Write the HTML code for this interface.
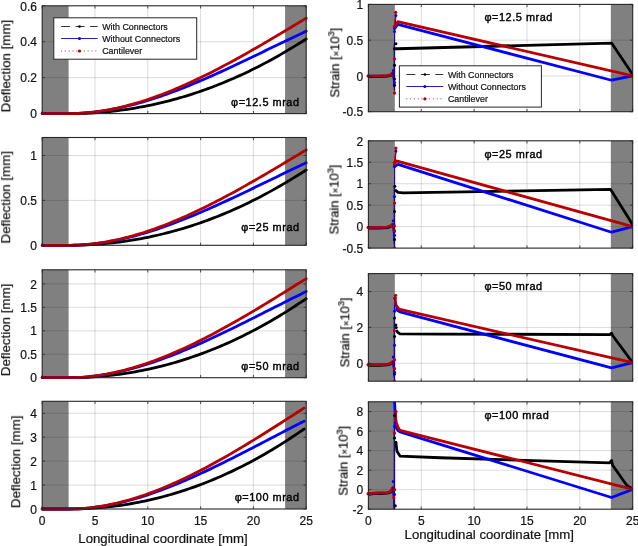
<!DOCTYPE html>
<html><head><meta charset="utf-8"><style>
html,body{margin:0;padding:0;background:#fff;}
body{width:638px;height:546px;overflow:hidden;}
svg{display:block;} text{will-change:transform;fill:#141414;stroke:#141414;stroke-width:0.22px;}
</style></head><body>
<svg width="638" height="546" viewBox="0 0 638 546" font-family='"Liberation Sans", sans-serif'>
<rect width="638" height="546" fill="#fff"/>
<rect x="42.2" y="5.8" width="264" height="107.8" fill="#fff"/>
<rect x="42.2" y="5.8" width="26.4" height="107.8" fill="#808080"/>
<rect x="285.08" y="5.8" width="21.12" height="107.8" fill="#808080"/>
<path d="M95 5.8V113.6M147.8 5.8V113.6M200.6 5.8V113.6M253.4 5.8V113.6M42.2 77.67H306.2M42.2 41.73H306.2" stroke="#000" stroke-opacity="0.14" stroke-width="1" fill="none"/>
<path d="M42.2 113.6 L68.6 113.6 L71.77 113.59 L74.94 113.55 L78.1 113.49 L81.27 113.4 L84.44 113.29 L87.61 113.15 L90.78 112.99 L93.94 112.8 L97.11 112.59 L100.28 112.35 L103.45 112.09 L106.62 111.8 L109.78 111.49 L112.95 111.15 L116.12 110.78 L119.29 110.39 L122.46 109.97 L125.62 109.53 L128.79 109.06 L131.96 108.56 L135.13 108.04 L138.3 107.49 L141.46 106.92 L144.63 106.31 L147.8 105.69 L150.97 105.03 L154.14 104.35 L157.3 103.64 L160.47 102.91 L163.64 102.15 L166.81 101.36 L169.98 100.54 L173.14 99.7 L176.31 98.83 L179.48 97.93 L182.65 97.01 L185.82 96.06 L188.98 95.08 L192.15 94.07 L195.32 93.04 L198.49 91.97 L201.66 90.88 L204.82 89.77 L207.99 88.62 L211.16 87.45 L214.33 86.24 L217.5 85.01 L220.66 83.76 L223.83 82.47 L227 81.15 L230.17 79.81 L233.34 78.44 L236.5 77.04 L239.67 75.61 L242.84 74.15 L246.01 72.66 L249.18 71.14 L252.34 69.6 L255.51 68.02 L258.68 66.42 L261.85 64.79 L265.02 63.13 L268.18 61.43 L271.35 59.71 L274.52 57.96 L277.69 56.18 L280.86 54.37 L284.02 52.53 L287.19 50.66 L290.36 48.77 L293.53 46.85 L296.7 44.91 L299.86 42.96 L303.03 41 L306.2 39.04" stroke="#000000" stroke-width="2.8" fill="none" stroke-linejoin="round" stroke-linecap="round"/>
<path d="M42.2 113.6 L68.6 113.6 L71.77 113.58 L74.94 113.5 L78.1 113.39 L81.27 113.22 L84.44 113.01 L87.61 112.75 L90.78 112.45 L93.94 112.11 L97.11 111.73 L100.28 111.3 L103.45 110.83 L106.62 110.33 L109.78 109.78 L112.95 109.2 L116.12 108.57 L119.29 107.91 L122.46 107.22 L125.62 106.49 L128.79 105.72 L131.96 104.92 L135.13 104.09 L138.3 103.22 L141.46 102.32 L144.63 101.4 L147.8 100.44 L150.97 99.45 L154.14 98.43 L157.3 97.39 L160.47 96.32 L163.64 95.22 L166.81 94.1 L169.98 92.95 L173.14 91.78 L176.31 90.59 L179.48 89.37 L182.65 88.13 L185.82 86.87 L188.98 85.6 L192.15 84.3 L195.32 82.98 L198.49 81.65 L201.66 80.29 L204.82 78.93 L207.99 77.54 L211.16 76.15 L214.33 74.73 L217.5 73.31 L220.66 71.87 L223.83 70.42 L227 68.96 L230.17 67.49 L233.34 66.01 L236.5 64.53 L239.67 63.03 L242.84 61.53 L246.01 60.02 L249.18 58.51 L252.34 56.99 L255.51 55.47 L258.68 53.94 L261.85 52.41 L265.02 50.88 L268.18 49.35 L271.35 47.82 L274.52 46.29 L277.69 44.76 L280.86 43.24 L284.02 41.71 L287.19 40.19 L290.36 38.68 L293.53 37.17 L296.7 35.66 L299.86 34.15 L303.03 32.64 L306.2 31.13" stroke="#0000ff" stroke-width="2.8" fill="none" stroke-linejoin="round" stroke-linecap="round"/>
<path d="M42.2 113.6 L68.6 113.6 L71.77 113.57 L74.94 113.5 L78.1 113.37 L81.27 113.2 L84.44 112.98 L87.61 112.71 L90.78 112.39 L93.94 112.03 L97.11 111.62 L100.28 111.17 L103.45 110.67 L106.62 110.13 L109.78 109.55 L112.95 108.92 L116.12 108.26 L119.29 107.55 L122.46 106.8 L125.62 106.02 L128.79 105.19 L131.96 104.33 L135.13 103.43 L138.3 102.49 L141.46 101.52 L144.63 100.51 L147.8 99.47 L150.97 98.39 L154.14 97.28 L157.3 96.14 L160.47 94.96 L163.64 93.76 L166.81 92.52 L169.98 91.25 L173.14 89.96 L176.31 88.63 L179.48 87.28 L182.65 85.9 L185.82 84.5 L188.98 83.07 L192.15 81.61 L195.32 80.13 L198.49 78.63 L201.66 77.1 L204.82 75.55 L207.99 73.98 L211.16 72.39 L214.33 70.77 L217.5 69.14 L220.66 67.49 L223.83 65.82 L227 64.13 L230.17 62.43 L233.34 60.71 L236.5 58.97 L239.67 57.22 L242.84 55.45 L246.01 53.67 L249.18 51.88 L252.34 50.08 L255.51 48.26 L258.68 46.44 L261.85 44.6 L265.02 42.75 L268.18 40.9 L271.35 39.04 L274.52 37.16 L277.69 35.29 L280.86 33.4 L284.02 31.51 L287.19 29.62 L290.36 27.72 L293.53 25.82 L296.7 23.92 L299.86 22.01 L303.03 20.1 L306.2 18.2" stroke="#b80000" stroke-width="2.8" fill="none" stroke-linejoin="round" stroke-linecap="round"/>
<path d="M42.2 113.6V110.9M42.2 5.8V8.5M95 113.6V110.9M95 5.8V8.5M147.8 113.6V110.9M147.8 5.8V8.5M200.6 113.6V110.9M200.6 5.8V8.5M253.4 113.6V110.9M253.4 5.8V8.5M306.2 113.6V110.9M306.2 5.8V8.5M42.2 113.6H44.9M306.2 113.6H303.5M42.2 77.67H44.9M306.2 77.67H303.5M42.2 41.73H44.9M306.2 41.73H303.5M42.2 5.8H44.9M306.2 5.8H303.5" stroke="#262626" stroke-width="0.8" fill="none"/>
<rect x="42.2" y="5.8" width="264" height="107.8" fill="none" stroke="#262626" stroke-width="1.1"/>
<text x="37" y="118.3" text-anchor="end" font-size="12" fill="#262626">0</text>
<text x="37" y="82.37" text-anchor="end" font-size="12" fill="#262626">0.2</text>
<text x="37" y="46.43" text-anchor="end" font-size="12" fill="#262626">0.4</text>
<text x="37" y="10.5" text-anchor="end" font-size="12" fill="#262626">0.6</text>
<rect x="42.2" y="137.5" width="264" height="107.8" fill="#fff"/>
<rect x="42.2" y="137.5" width="26.4" height="107.8" fill="#808080"/>
<rect x="285.08" y="137.5" width="21.12" height="107.8" fill="#808080"/>
<path d="M95 137.5V245.3M147.8 137.5V245.3M200.6 137.5V245.3M253.4 137.5V245.3M42.2 200.38H306.2M42.2 155.47H306.2" stroke="#000" stroke-opacity="0.14" stroke-width="1" fill="none"/>
<path d="M42.2 245.3 L68.6 245.3 L71.77 245.29 L74.94 245.25 L78.1 245.19 L81.27 245.1 L84.44 244.99 L87.61 244.85 L90.78 244.68 L93.94 244.5 L97.11 244.28 L100.28 244.04 L103.45 243.77 L106.62 243.48 L109.78 243.17 L112.95 242.82 L116.12 242.45 L119.29 242.06 L122.46 241.64 L125.62 241.19 L128.79 240.71 L131.96 240.21 L135.13 239.68 L138.3 239.13 L141.46 238.55 L144.63 237.94 L147.8 237.31 L150.97 236.65 L154.14 235.96 L157.3 235.25 L160.47 234.51 L163.64 233.74 L166.81 232.94 L169.98 232.12 L173.14 231.27 L176.31 230.39 L179.48 229.48 L182.65 228.55 L185.82 227.59 L188.98 226.6 L192.15 225.58 L195.32 224.54 L198.49 223.47 L201.66 222.37 L204.82 221.24 L207.99 220.08 L211.16 218.89 L214.33 217.68 L217.5 216.44 L220.66 215.17 L223.83 213.87 L227 212.54 L230.17 211.18 L233.34 209.8 L236.5 208.38 L239.67 206.94 L242.84 205.47 L246.01 203.97 L249.18 202.44 L252.34 200.87 L255.51 199.29 L258.68 197.67 L261.85 196.02 L265.02 194.34 L268.18 192.63 L271.35 190.89 L274.52 189.13 L277.69 187.33 L280.86 185.5 L284.02 183.64 L287.19 181.76 L290.36 179.84 L293.53 177.9 L296.7 175.95 L299.86 173.98 L303.03 172 L306.2 170.02" stroke="#000000" stroke-width="2.8" fill="none" stroke-linejoin="round" stroke-linecap="round"/>
<path d="M42.2 245.3 L68.6 245.3 L71.77 245.28 L74.94 245.2 L78.1 245.08 L81.27 244.92 L84.44 244.71 L87.61 244.45 L90.78 244.15 L93.94 243.81 L97.11 243.43 L100.28 243 L103.45 242.53 L106.62 242.02 L109.78 241.48 L112.95 240.89 L116.12 240.27 L119.29 239.61 L122.46 238.91 L125.62 238.18 L128.79 237.41 L131.96 236.61 L135.13 235.78 L138.3 234.91 L141.46 234.01 L144.63 233.08 L147.8 232.12 L150.97 231.13 L154.14 230.12 L157.3 229.07 L160.47 228 L163.64 226.9 L166.81 225.78 L169.98 224.63 L173.14 223.46 L176.31 222.26 L179.48 221.05 L182.65 219.81 L185.82 218.55 L188.98 217.27 L192.15 215.97 L195.32 214.65 L198.49 213.31 L201.66 211.96 L204.82 210.59 L207.99 209.2 L211.16 207.81 L214.33 206.39 L217.5 204.97 L220.66 203.53 L223.83 202.08 L227 200.61 L230.17 199.14 L233.34 197.66 L236.5 196.17 L239.67 194.68 L242.84 193.17 L246.01 191.66 L249.18 190.15 L252.34 188.63 L255.51 187.1 L258.68 185.57 L261.85 184.05 L265.02 182.51 L268.18 180.98 L271.35 179.45 L274.52 177.92 L277.69 176.39 L280.86 174.86 L284.02 173.34 L287.19 171.81 L290.36 170.3 L293.53 168.78 L296.7 167.27 L299.86 165.76 L303.03 164.25 L306.2 162.74" stroke="#0000ff" stroke-width="2.8" fill="none" stroke-linejoin="round" stroke-linecap="round"/>
<path d="M42.2 245.3 L68.6 245.3 L71.77 245.27 L74.94 245.2 L78.1 245.07 L81.27 244.9 L84.44 244.68 L87.61 244.41 L90.78 244.09 L93.94 243.73 L97.11 243.32 L100.28 242.87 L103.45 242.37 L106.62 241.83 L109.78 241.25 L112.95 240.62 L116.12 239.96 L119.29 239.25 L122.46 238.5 L125.62 237.72 L128.79 236.89 L131.96 236.03 L135.13 235.13 L138.3 234.19 L141.46 233.22 L144.63 232.21 L147.8 231.17 L150.97 230.09 L154.14 228.98 L157.3 227.84 L160.47 226.66 L163.64 225.46 L166.81 224.22 L169.98 222.95 L173.14 221.66 L176.31 220.33 L179.48 218.98 L182.65 217.6 L185.82 216.2 L188.98 214.77 L192.15 213.31 L195.32 211.83 L198.49 210.33 L201.66 208.8 L204.82 207.25 L207.99 205.68 L211.16 204.09 L214.33 202.47 L217.5 200.84 L220.66 199.19 L223.83 197.52 L227 195.83 L230.17 194.13 L233.34 192.41 L236.5 190.67 L239.67 188.92 L242.84 187.15 L246.01 185.37 L249.18 183.58 L252.34 181.78 L255.51 179.96 L258.68 178.14 L261.85 176.3 L265.02 174.45 L268.18 172.6 L271.35 170.74 L274.52 168.86 L277.69 166.99 L280.86 165.1 L284.02 163.21 L287.19 161.32 L290.36 159.42 L293.53 157.52 L296.7 155.62 L299.86 153.71 L303.03 151.8 L306.2 149.9" stroke="#b80000" stroke-width="2.8" fill="none" stroke-linejoin="round" stroke-linecap="round"/>
<path d="M42.2 245.3V242.6M42.2 137.5V140.2M95 245.3V242.6M95 137.5V140.2M147.8 245.3V242.6M147.8 137.5V140.2M200.6 245.3V242.6M200.6 137.5V140.2M253.4 245.3V242.6M253.4 137.5V140.2M306.2 245.3V242.6M306.2 137.5V140.2M42.2 245.3H44.9M306.2 245.3H303.5M42.2 200.38H44.9M306.2 200.38H303.5M42.2 155.47H44.9M306.2 155.47H303.5" stroke="#262626" stroke-width="0.8" fill="none"/>
<rect x="42.2" y="137.5" width="264" height="107.8" fill="none" stroke="#262626" stroke-width="1.1"/>
<text x="37" y="250" text-anchor="end" font-size="12" fill="#262626">0</text>
<text x="37" y="205.08" text-anchor="end" font-size="12" fill="#262626">0.5</text>
<text x="37" y="160.17" text-anchor="end" font-size="12" fill="#262626">1</text>
<rect x="42.2" y="269.8" width="264" height="107.9" fill="#fff"/>
<rect x="42.2" y="269.8" width="26.4" height="107.9" fill="#808080"/>
<rect x="285.08" y="269.8" width="21.12" height="107.9" fill="#808080"/>
<path d="M95 269.8V377.7M147.8 269.8V377.7M200.6 269.8V377.7M253.4 269.8V377.7M42.2 354.24H306.2M42.2 330.79H306.2M42.2 307.33H306.2M42.2 283.87H306.2" stroke="#000" stroke-opacity="0.14" stroke-width="1" fill="none"/>
<path d="M42.2 377.7 L68.6 377.7 L71.77 377.69 L74.94 377.65 L78.1 377.58 L81.27 377.49 L84.44 377.37 L87.61 377.23 L90.78 377.06 L93.94 376.86 L97.11 376.63 L100.28 376.38 L103.45 376.1 L106.62 375.8 L109.78 375.46 L112.95 375.1 L116.12 374.72 L119.29 374.3 L122.46 373.86 L125.62 373.39 L128.79 372.89 L131.96 372.37 L135.13 371.81 L138.3 371.23 L141.46 370.63 L144.63 369.99 L147.8 369.33 L150.97 368.63 L154.14 367.91 L157.3 367.16 L160.47 366.39 L163.64 365.58 L166.81 364.75 L169.98 363.88 L173.14 362.99 L176.31 362.07 L179.48 361.12 L182.65 360.14 L185.82 359.14 L188.98 358.1 L192.15 357.03 L195.32 355.94 L198.49 354.81 L201.66 353.66 L204.82 352.48 L207.99 351.26 L211.16 350.02 L214.33 348.75 L217.5 347.45 L220.66 346.12 L223.83 344.75 L227 343.36 L230.17 341.94 L233.34 340.49 L236.5 339.01 L239.67 337.49 L242.84 335.95 L246.01 334.37 L249.18 332.77 L252.34 331.13 L255.51 329.47 L258.68 327.77 L261.85 326.04 L265.02 324.28 L268.18 322.49 L271.35 320.67 L274.52 318.82 L277.69 316.94 L280.86 315.02 L284.02 313.07 L287.19 311.09 L290.36 309.09 L293.53 307.06 L296.7 305.01 L299.86 302.94 L303.03 300.87 L306.2 298.79" stroke="#000000" stroke-width="2.8" fill="none" stroke-linejoin="round" stroke-linecap="round"/>
<path d="M42.2 377.7 L68.6 377.7 L71.77 377.67 L74.94 377.6 L78.1 377.48 L81.27 377.3 L84.44 377.08 L87.61 376.82 L90.78 376.5 L93.94 376.14 L97.11 375.74 L100.28 375.3 L103.45 374.81 L106.62 374.28 L109.78 373.71 L112.95 373.09 L116.12 372.44 L119.29 371.75 L122.46 371.03 L125.62 370.26 L128.79 369.46 L131.96 368.62 L135.13 367.75 L138.3 366.85 L141.46 365.91 L144.63 364.94 L147.8 363.94 L150.97 362.9 L154.14 361.84 L157.3 360.75 L160.47 359.63 L163.64 358.48 L166.81 357.31 L169.98 356.11 L173.14 354.89 L176.31 353.64 L179.48 352.37 L182.65 351.07 L185.82 349.76 L188.98 348.42 L192.15 347.06 L195.32 345.69 L198.49 344.29 L201.66 342.88 L204.82 341.45 L207.99 340 L211.16 338.54 L214.33 337.06 L217.5 335.57 L220.66 334.07 L223.83 332.55 L227 331.03 L230.17 329.49 L233.34 327.95 L236.5 326.39 L239.67 324.83 L242.84 323.26 L246.01 321.68 L249.18 320.1 L252.34 318.51 L255.51 316.92 L258.68 315.32 L261.85 313.72 L265.02 312.12 L268.18 310.52 L271.35 308.92 L274.52 307.32 L277.69 305.72 L280.86 304.13 L284.02 302.54 L287.19 300.95 L290.36 299.36 L293.53 297.78 L296.7 296.2 L299.86 294.63 L303.03 293.05 L306.2 291.47" stroke="#0000ff" stroke-width="2.8" fill="none" stroke-linejoin="round" stroke-linecap="round"/>
<path d="M42.2 377.7 L68.6 377.7 L71.77 377.67 L74.94 377.6 L78.1 377.47 L81.27 377.28 L84.44 377.05 L87.61 376.77 L90.78 376.45 L93.94 376.07 L97.11 375.65 L100.28 375.18 L103.45 374.66 L106.62 374.1 L109.78 373.49 L112.95 372.84 L116.12 372.15 L119.29 371.42 L122.46 370.64 L125.62 369.82 L128.79 368.97 L131.96 368.07 L135.13 367.14 L138.3 366.16 L141.46 365.15 L144.63 364.1 L147.8 363.02 L150.97 361.9 L154.14 360.75 L157.3 359.56 L160.47 358.34 L163.64 357.09 L166.81 355.81 L169.98 354.49 L173.14 353.15 L176.31 351.77 L179.48 350.37 L182.65 348.94 L185.82 347.48 L188.98 345.99 L192.15 344.48 L195.32 342.94 L198.49 341.38 L201.66 339.79 L204.82 338.18 L207.99 336.55 L211.16 334.9 L214.33 333.22 L217.5 331.53 L220.66 329.81 L223.83 328.08 L227 326.33 L230.17 324.55 L233.34 322.77 L236.5 320.96 L239.67 319.15 L242.84 317.31 L246.01 315.46 L249.18 313.6 L252.34 311.73 L255.51 309.84 L258.68 307.95 L261.85 306.04 L265.02 304.12 L268.18 302.2 L271.35 300.26 L274.52 298.32 L277.69 296.37 L280.86 294.41 L284.02 292.45 L287.19 290.48 L290.36 288.51 L293.53 286.54 L296.7 284.56 L299.86 282.58 L303.03 280.6 L306.2 278.62" stroke="#b80000" stroke-width="2.8" fill="none" stroke-linejoin="round" stroke-linecap="round"/>
<path d="M42.2 377.7V375M42.2 269.8V272.5M95 377.7V375M95 269.8V272.5M147.8 377.7V375M147.8 269.8V272.5M200.6 377.7V375M200.6 269.8V272.5M253.4 377.7V375M253.4 269.8V272.5M306.2 377.7V375M306.2 269.8V272.5M42.2 377.7H44.9M306.2 377.7H303.5M42.2 354.24H44.9M306.2 354.24H303.5M42.2 330.79H44.9M306.2 330.79H303.5M42.2 307.33H44.9M306.2 307.33H303.5M42.2 283.87H44.9M306.2 283.87H303.5" stroke="#262626" stroke-width="0.8" fill="none"/>
<rect x="42.2" y="269.8" width="264" height="107.9" fill="none" stroke="#262626" stroke-width="1.1"/>
<text x="37" y="382.4" text-anchor="end" font-size="12" fill="#262626">0</text>
<text x="37" y="358.94" text-anchor="end" font-size="12" fill="#262626">0.5</text>
<text x="37" y="335.49" text-anchor="end" font-size="12" fill="#262626">1</text>
<text x="37" y="312.03" text-anchor="end" font-size="12" fill="#262626">1.5</text>
<text x="37" y="288.57" text-anchor="end" font-size="12" fill="#262626">2</text>
<rect x="42.2" y="401.3" width="264" height="107.7" fill="#fff"/>
<rect x="42.2" y="401.3" width="26.4" height="107.7" fill="#808080"/>
<rect x="285.08" y="401.3" width="21.12" height="107.7" fill="#808080"/>
<path d="M95 401.3V509M147.8 401.3V509M200.6 401.3V509M253.4 401.3V509M42.2 485.07H306.2M42.2 461.13H306.2M42.2 437.2H306.2M42.2 413.27H306.2" stroke="#000" stroke-opacity="0.14" stroke-width="1" fill="none"/>
<path d="M42.2 509 L68.6 509 L71.77 508.99 L74.94 508.95 L78.1 508.88 L81.27 508.78 L84.44 508.66 L87.61 508.51 L90.78 508.34 L93.94 508.13 L97.11 507.9 L100.28 507.64 L103.45 507.35 L106.62 507.04 L109.78 506.69 L112.95 506.32 L116.12 505.92 L119.29 505.49 L122.46 505.04 L125.62 504.55 L128.79 504.04 L131.96 503.5 L135.13 502.93 L138.3 502.33 L141.46 501.71 L144.63 501.05 L147.8 500.36 L150.97 499.65 L154.14 498.91 L157.3 498.13 L160.47 497.33 L163.64 496.5 L166.81 495.64 L169.98 494.75 L173.14 493.83 L176.31 492.88 L179.48 491.9 L182.65 490.9 L185.82 489.86 L188.98 488.79 L192.15 487.69 L195.32 486.56 L198.49 485.4 L201.66 484.21 L204.82 482.99 L207.99 481.74 L211.16 480.46 L214.33 479.15 L217.5 477.81 L220.66 476.43 L223.83 475.03 L227 473.59 L230.17 472.13 L233.34 470.63 L236.5 469.1 L239.67 467.54 L242.84 465.95 L246.01 464.32 L249.18 462.67 L252.34 460.98 L255.51 459.27 L258.68 457.52 L261.85 455.73 L265.02 453.92 L268.18 452.07 L271.35 450.2 L274.52 448.28 L277.69 446.34 L280.86 444.37 L284.02 442.36 L287.19 440.32 L290.36 438.25 L293.53 436.16 L296.7 434.04 L299.86 431.91 L303.03 429.78 L304.09 429.06" stroke="#000000" stroke-width="2.8" fill="none" stroke-linejoin="round" stroke-linecap="round"/>
<path d="M42.2 509 L68.6 509 L71.77 508.97 L74.94 508.9 L78.1 508.77 L81.27 508.59 L84.44 508.36 L87.61 508.09 L90.78 507.77 L93.94 507.4 L97.11 506.98 L100.28 506.52 L103.45 506.02 L106.62 505.47 L109.78 504.88 L112.95 504.25 L116.12 503.58 L119.29 502.87 L122.46 502.12 L125.62 501.33 L128.79 500.5 L131.96 499.64 L135.13 498.74 L138.3 497.81 L141.46 496.84 L144.63 495.84 L147.8 494.81 L150.97 493.74 L154.14 492.65 L157.3 491.52 L160.47 490.37 L163.64 489.18 L166.81 487.97 L169.98 486.74 L173.14 485.48 L176.31 484.19 L179.48 482.88 L182.65 481.54 L185.82 480.18 L188.98 478.81 L192.15 477.41 L195.32 475.99 L198.49 474.55 L201.66 473.09 L204.82 471.61 L207.99 470.12 L211.16 468.62 L214.33 467.09 L217.5 465.56 L220.66 464.01 L223.83 462.45 L227 460.87 L230.17 459.29 L233.34 457.69 L236.5 456.09 L239.67 454.48 L242.84 452.86 L246.01 451.23 L249.18 449.6 L252.34 447.96 L255.51 446.32 L258.68 444.67 L261.85 443.03 L265.02 441.38 L268.18 439.73 L271.35 438.08 L274.52 436.43 L277.69 434.78 L280.86 433.13 L284.02 431.49 L287.19 429.85 L290.36 428.22 L293.53 426.59 L296.7 424.96 L299.86 423.33 L303.03 421.71 L304.09 421.16" stroke="#0000ff" stroke-width="2.8" fill="none" stroke-linejoin="round" stroke-linecap="round"/>
<path d="M42.2 509 L68.6 509 L71.77 508.97 L74.94 508.89 L78.1 508.76 L81.27 508.57 L84.44 508.33 L87.61 508.04 L90.78 507.7 L93.94 507.32 L97.11 506.88 L100.28 506.39 L103.45 505.86 L106.62 505.28 L109.78 504.65 L112.95 503.98 L116.12 503.27 L119.29 502.51 L122.46 501.71 L125.62 500.86 L128.79 499.98 L131.96 499.05 L135.13 498.09 L138.3 497.08 L141.46 496.04 L144.63 494.95 L147.8 493.84 L150.97 492.68 L154.14 491.49 L157.3 490.26 L160.47 489 L163.64 487.71 L166.81 486.38 L169.98 485.02 L173.14 483.63 L176.31 482.21 L179.48 480.76 L182.65 479.28 L185.82 477.78 L188.98 476.24 L192.15 474.68 L195.32 473.09 L198.49 471.48 L201.66 469.84 L204.82 468.17 L207.99 466.49 L211.16 464.78 L214.33 463.05 L217.5 461.3 L220.66 459.52 L223.83 457.73 L227 455.92 L230.17 454.09 L233.34 452.25 L236.5 450.38 L239.67 448.51 L242.84 446.61 L246.01 444.7 L249.18 442.78 L252.34 440.84 L255.51 438.9 L258.68 436.94 L261.85 434.97 L265.02 432.98 L268.18 430.99 L271.35 429 L274.52 426.99 L277.69 424.97 L280.86 422.95 L284.02 420.93 L287.19 418.89 L290.36 416.86 L293.53 414.82 L296.7 412.78 L299.86 410.73 L303.03 408.68 L304.09 408" stroke="#b80000" stroke-width="2.8" fill="none" stroke-linejoin="round" stroke-linecap="round"/>
<path d="M42.2 509V506.3M42.2 401.3V404M95 509V506.3M95 401.3V404M147.8 509V506.3M147.8 401.3V404M200.6 509V506.3M200.6 401.3V404M253.4 509V506.3M253.4 401.3V404M306.2 509V506.3M306.2 401.3V404M42.2 509H44.9M306.2 509H303.5M42.2 485.07H44.9M306.2 485.07H303.5M42.2 461.13H44.9M306.2 461.13H303.5M42.2 437.2H44.9M306.2 437.2H303.5M42.2 413.27H44.9M306.2 413.27H303.5" stroke="#262626" stroke-width="0.8" fill="none"/>
<rect x="42.2" y="401.3" width="264" height="107.7" fill="none" stroke="#262626" stroke-width="1.1"/>
<text x="37" y="513.7" text-anchor="end" font-size="12" fill="#262626">0</text>
<text x="37" y="489.77" text-anchor="end" font-size="12" fill="#262626">1</text>
<text x="37" y="465.83" text-anchor="end" font-size="12" fill="#262626">2</text>
<text x="37" y="441.9" text-anchor="end" font-size="12" fill="#262626">3</text>
<text x="37" y="417.97" text-anchor="end" font-size="12" fill="#262626">4</text>
<rect x="368.4" y="4.4" width="264.3" height="107.3" fill="#fff"/>
<rect x="368.4" y="4.4" width="26.43" height="107.3" fill="#808080"/>
<rect x="610.82" y="4.4" width="21.88" height="107.3" fill="#808080"/>
<path d="M421.26 4.4V111.7M474.12 4.4V111.7M526.98 4.4V111.7M579.84 4.4V111.7M368.4 75.93H632.7M368.4 40.17H632.7" stroke="#000" stroke-opacity="0.14" stroke-width="1" fill="none"/>
<g clip-path="url(#c0)">
<path d="M368.4 76.53 L378.97 76.53 L387.43 76.18 L390.6 75.46 L392.72 73.67" stroke="#000000" stroke-width="2.8" fill="none" stroke-linejoin="round" stroke-linecap="round"/>
<path d="M368.4 76.03 L378.97 76.03 L387.43 75.68 L390.6 74.96 L392.72 73.17" stroke="#0000ff" stroke-width="2.4" fill="none" stroke-linejoin="round" stroke-linecap="round"/>
<path d="M368.4 75.93 L378.97 75.93 L387.43 75.58 L390.6 74.86 L392.72 73.07" stroke="#b80000" stroke-width="2.6" fill="none" stroke-linejoin="round" stroke-linecap="round"/>
<path d="M392.72 73.07 L394.21 85.23 L394.21 43.74" stroke="#000000" stroke-width="1.0" fill="none" stroke-linejoin="round" stroke-linecap="round"/>
<path d="M392.72 73.07 L394.71 93.1 L394.71 26.58" stroke="#b80000" stroke-width="1.0" fill="none" stroke-linejoin="round" stroke-linecap="round"/>
<path d="M392.72 73.07 L394.51 90.24 L394.51 28.72" stroke="#0000ff" stroke-width="0.9" fill="none" stroke-linejoin="round" stroke-linecap="round"/>
<path d="M394.83 48.75 L397.47 48.75 L611.56 43.03 L632.7 74.5" stroke="#000000" stroke-width="2.8" fill="none" stroke-linejoin="round" stroke-linecap="round"/>
<path d="M394.51 28.72 L395.89 15.49" stroke="#0000ff" stroke-width="1.4" fill="none" stroke-linejoin="round" stroke-linecap="round"/>
<path d="M394.51 28.72 L397.79 24.43 L611.56 80.23 L632.7 75.93" stroke="#0000ff" stroke-width="2.8" fill="none" stroke-linejoin="round" stroke-linecap="round"/>
<path d="M394.51 26.58 L395.68 12.27" stroke="#b80000" stroke-width="1.4" fill="none" stroke-linejoin="round" stroke-linecap="round"/>
<path d="M394.51 26.58 L397.79 21.57 L632.7 75.93" stroke="#b80000" stroke-width="2.8" fill="none" stroke-linejoin="round" stroke-linecap="round"/>
<circle cx="395.89" cy="43.74" r="1.5" fill="#000000"/>
<circle cx="394.51" cy="48.75" r="1.5" fill="#000000"/>
<circle cx="394.51" cy="65.2" r="1.5" fill="#000000"/>
<circle cx="394.51" cy="79.08" r="1.5" fill="#000000"/>
<circle cx="394.51" cy="85.23" r="1.5" fill="#000000"/>
<circle cx="395.89" cy="15.49" r="1.5" fill="#0000ff"/>
<circle cx="394.51" cy="31.58" r="1.5" fill="#0000ff"/>
<circle cx="393.24" cy="70.43" r="1.5" fill="#0000ff"/>
<circle cx="394.51" cy="82.59" r="1.5" fill="#0000ff"/>
<circle cx="395.68" cy="12.27" r="1.6" fill="#b80000"/>
<circle cx="394.51" cy="26.58" r="1.6" fill="#b80000"/>
<circle cx="394.51" cy="58.77" r="1.6" fill="#b80000"/>
<circle cx="394.51" cy="93.1" r="1.6" fill="#b80000"/>
</g>
<circle cx="368.2" cy="75.93" r="1.7" fill="#b80000"/>
<path d="M368.4 111.7V109M368.4 4.4V7.1M421.26 111.7V109M421.26 4.4V7.1M474.12 111.7V109M474.12 4.4V7.1M526.98 111.7V109M526.98 4.4V7.1M579.84 111.7V109M579.84 4.4V7.1M632.7 111.7V109M632.7 4.4V7.1M368.4 111.7H371.1M632.7 111.7H630M368.4 75.93H371.1M632.7 75.93H630M368.4 40.17H371.1M632.7 40.17H630M368.4 4.4H371.1M632.7 4.4H630" stroke="#262626" stroke-width="0.8" fill="none"/>
<rect x="368.4" y="4.4" width="264.3" height="107.3" fill="none" stroke="#262626" stroke-width="1.1"/>
<text x="363.2" y="116.4" text-anchor="end" font-size="12" fill="#262626">-0.5</text>
<text x="363.2" y="80.63" text-anchor="end" font-size="12" fill="#262626">0</text>
<text x="363.2" y="44.87" text-anchor="end" font-size="12" fill="#262626">0.5</text>
<text x="363.2" y="9.1" text-anchor="end" font-size="12" fill="#262626">1</text>
<rect x="368.4" y="140.8" width="264.3" height="107.3" fill="#fff"/>
<rect x="368.4" y="140.8" width="26.43" height="107.3" fill="#808080"/>
<rect x="610.82" y="140.8" width="21.88" height="107.3" fill="#808080"/>
<path d="M421.26 140.8V248.1M474.12 140.8V248.1M526.98 140.8V248.1M579.84 140.8V248.1M368.4 226.64H632.7M368.4 205.18H632.7M368.4 183.72H632.7M368.4 162.26H632.7" stroke="#000" stroke-opacity="0.14" stroke-width="1" fill="none"/>
<g clip-path="url(#c1)">
<path d="M368.4 228.1 L378.97 228.1 L387.43 227.67 L390.6 226.38 L392.72 224.66" stroke="#000000" stroke-width="2.8" fill="none" stroke-linejoin="round" stroke-linecap="round"/>
<path d="M368.4 227.6 L378.97 227.6 L387.43 227.17 L390.6 225.88 L392.72 224.16" stroke="#0000ff" stroke-width="2.4" fill="none" stroke-linejoin="round" stroke-linecap="round"/>
<path d="M368.4 227.5 L378.97 227.5 L387.43 227.07 L390.6 225.78 L392.72 224.06" stroke="#b80000" stroke-width="2.6" fill="none" stroke-linejoin="round" stroke-linecap="round"/>
<path d="M392.72 224.06 L394.21 239.52 L394.21 186.3" stroke="#000000" stroke-width="1.0" fill="none" stroke-linejoin="round" stroke-linecap="round"/>
<path d="M392.72 224.06 L394.71 248.1 L394.71 164.41" stroke="#b80000" stroke-width="1.0" fill="none" stroke-linejoin="round" stroke-linecap="round"/>
<path d="M392.72 224.06 L394.51 248.1 L394.51 166.55" stroke="#0000ff" stroke-width="0.9" fill="none" stroke-linejoin="round" stroke-linecap="round"/>
<path d="M395.89 190.59 L398 192.3 L403.29 192.95 L610.5 189.3 L632.7 224.71" stroke="#000000" stroke-width="2.8" fill="none" stroke-linejoin="round" stroke-linecap="round"/>
<path d="M394.51 166.55 L395.89 151.1" stroke="#0000ff" stroke-width="1.4" fill="none" stroke-linejoin="round" stroke-linecap="round"/>
<path d="M394.51 166.55 L398 164.41 L611.56 232.22 L632.7 226.64" stroke="#0000ff" stroke-width="2.8" fill="none" stroke-linejoin="round" stroke-linecap="round"/>
<path d="M394.51 164.41 L395.89 148.1" stroke="#b80000" stroke-width="1.4" fill="none" stroke-linejoin="round" stroke-linecap="round"/>
<path d="M394.51 164.41 L396.42 160.97 L632.7 226.64" stroke="#b80000" stroke-width="2.8" fill="none" stroke-linejoin="round" stroke-linecap="round"/>
<circle cx="394.83" cy="186.3" r="1.5" fill="#000000"/>
<circle cx="394.51" cy="211.62" r="1.5" fill="#000000"/>
<circle cx="394.51" cy="230.93" r="1.5" fill="#000000"/>
<circle cx="394.51" cy="239.52" r="1.5" fill="#000000"/>
<circle cx="395.89" cy="151.1" r="1.5" fill="#0000ff"/>
<circle cx="394.51" cy="166.55" r="1.5" fill="#0000ff"/>
<circle cx="394.51" cy="196.6" r="1.5" fill="#0000ff"/>
<circle cx="393.24" cy="220.63" r="1.5" fill="#0000ff"/>
<circle cx="394.51" cy="235.22" r="1.5" fill="#0000ff"/>
<circle cx="395.89" cy="148.1" r="1.6" fill="#b80000"/>
<circle cx="394.51" cy="162.26" r="1.6" fill="#b80000"/>
<circle cx="394.51" cy="203.03" r="1.6" fill="#b80000"/>
<circle cx="394.51" cy="225.78" r="1.6" fill="#b80000"/>
<circle cx="394.51" cy="230.93" r="1.6" fill="#b80000"/>
<circle cx="394.51" cy="248.1" r="1.6" fill="#b80000"/>
</g>
<circle cx="368.2" cy="227.5" r="1.7" fill="#b80000"/>
<path d="M368.4 248.1V245.4M368.4 140.8V143.5M421.26 248.1V245.4M421.26 140.8V143.5M474.12 248.1V245.4M474.12 140.8V143.5M526.98 248.1V245.4M526.98 140.8V143.5M579.84 248.1V245.4M579.84 140.8V143.5M632.7 248.1V245.4M632.7 140.8V143.5M368.4 248.1H371.1M632.7 248.1H630M368.4 226.64H371.1M632.7 226.64H630M368.4 205.18H371.1M632.7 205.18H630M368.4 183.72H371.1M632.7 183.72H630M368.4 162.26H371.1M632.7 162.26H630M368.4 140.8H371.1M632.7 140.8H630" stroke="#262626" stroke-width="0.8" fill="none"/>
<rect x="368.4" y="140.8" width="264.3" height="107.3" fill="none" stroke="#262626" stroke-width="1.1"/>
<text x="363.2" y="252.8" text-anchor="end" font-size="12" fill="#262626">-0.5</text>
<text x="363.2" y="231.34" text-anchor="end" font-size="12" fill="#262626">0</text>
<text x="363.2" y="209.88" text-anchor="end" font-size="12" fill="#262626">0.5</text>
<text x="363.2" y="188.42" text-anchor="end" font-size="12" fill="#262626">1</text>
<text x="363.2" y="166.96" text-anchor="end" font-size="12" fill="#262626">1.5</text>
<text x="363.2" y="145.5" text-anchor="end" font-size="12" fill="#262626">2</text>
<rect x="368.4" y="273.6" width="264.3" height="107.6" fill="#fff"/>
<rect x="368.4" y="273.6" width="26.43" height="107.6" fill="#808080"/>
<rect x="610.82" y="273.6" width="21.88" height="107.6" fill="#808080"/>
<path d="M421.26 273.6V381.2M474.12 273.6V381.2M526.98 273.6V381.2M579.84 273.6V381.2M368.4 363.27H632.7M368.4 327.4H632.7M368.4 291.53H632.7" stroke="#000" stroke-opacity="0.14" stroke-width="1" fill="none"/>
<g clip-path="url(#c2)">
<path d="M368.4 365.3 L378.97 365.3 L387.43 364.94 L390.6 363.87 L392.72 362.07" stroke="#000000" stroke-width="2.8" fill="none" stroke-linejoin="round" stroke-linecap="round"/>
<path d="M368.4 364.8 L378.97 364.8 L387.43 364.44 L390.6 363.37 L392.72 361.57" stroke="#0000ff" stroke-width="2.4" fill="none" stroke-linejoin="round" stroke-linecap="round"/>
<path d="M368.4 364.7 L378.97 364.7 L387.43 364.34 L390.6 363.27 L392.72 361.47" stroke="#b80000" stroke-width="2.6" fill="none" stroke-linejoin="round" stroke-linecap="round"/>
<path d="M392.72 361.47 L394.21 374.03 L394.21 317.9" stroke="#000000" stroke-width="1.0" fill="none" stroke-linejoin="round" stroke-linecap="round"/>
<path d="M392.72 361.47 L394.71 381.2 L394.71 304.09" stroke="#b80000" stroke-width="1.0" fill="none" stroke-linejoin="round" stroke-linecap="round"/>
<path d="M392.72 361.47 L394.51 381.2 L394.51 298.17" stroke="#0000ff" stroke-width="0.9" fill="none" stroke-linejoin="round" stroke-linecap="round"/>
<path d="M396.94 330.99 L397.47 332.06 L400.01 333.86 L440.29 334.04 L609.97 334.57 L611.56 333.14 L612.61 335.47 L632.7 362.73" stroke="#000000" stroke-width="2.8" fill="none" stroke-linejoin="round" stroke-linecap="round"/>
<path d="M394.51 309.47 L394.83 298.17 L396.73 309.47" stroke="#0000ff" stroke-width="1.4" fill="none" stroke-linejoin="round" stroke-linecap="round"/>
<path d="M396.73 309.47 L398 310.72 L400.01 311.8 L611.56 367.93 L632.7 362.73" stroke="#0000ff" stroke-width="2.8" fill="none" stroke-linejoin="round" stroke-linecap="round"/>
<path d="M394.51 304.09 L395.36 295.3 L396.73 305.88" stroke="#b80000" stroke-width="1.4" fill="none" stroke-linejoin="round" stroke-linecap="round"/>
<path d="M396.73 305.88 L398 308.03 L400.01 309.47 L632.7 362.73" stroke="#b80000" stroke-width="2.8" fill="none" stroke-linejoin="round" stroke-linecap="round"/>
<circle cx="394.51" cy="317.9" r="1.5" fill="#000000"/>
<circle cx="395.89" cy="325.07" r="1.5" fill="#000000"/>
<circle cx="396.2" cy="327.4" r="1.5" fill="#000000"/>
<circle cx="394.51" cy="336.55" r="1.5" fill="#000000"/>
<circle cx="394.51" cy="374.03" r="1.5" fill="#000000"/>
<circle cx="394.83" cy="298.17" r="1.5" fill="#0000ff"/>
<circle cx="394.51" cy="311.26" r="1.5" fill="#0000ff"/>
<circle cx="394.51" cy="345.33" r="1.5" fill="#0000ff"/>
<circle cx="393.24" cy="356.99" r="1.5" fill="#0000ff"/>
<circle cx="394.51" cy="372.23" r="1.5" fill="#0000ff"/>
<circle cx="395.57" cy="295.3" r="1.6" fill="#b80000"/>
<circle cx="395.15" cy="297.81" r="1.6" fill="#b80000"/>
<circle cx="394.51" cy="330.81" r="1.6" fill="#b80000"/>
<circle cx="394.51" cy="359.68" r="1.6" fill="#b80000"/>
<circle cx="394.51" cy="368.65" r="1.6" fill="#b80000"/>
<circle cx="394.51" cy="381.2" r="1.6" fill="#b80000"/>
</g>
<circle cx="368.2" cy="364.7" r="1.7" fill="#b80000"/>
<path d="M368.4 381.2V378.5M368.4 273.6V276.3M421.26 381.2V378.5M421.26 273.6V276.3M474.12 381.2V378.5M474.12 273.6V276.3M526.98 381.2V378.5M526.98 273.6V276.3M579.84 381.2V378.5M579.84 273.6V276.3M632.7 381.2V378.5M632.7 273.6V276.3M368.4 363.27H371.1M632.7 363.27H630M368.4 327.4H371.1M632.7 327.4H630M368.4 291.53H371.1M632.7 291.53H630" stroke="#262626" stroke-width="0.8" fill="none"/>
<rect x="368.4" y="273.6" width="264.3" height="107.6" fill="none" stroke="#262626" stroke-width="1.1"/>
<text x="363.2" y="367.97" text-anchor="end" font-size="12" fill="#262626">0</text>
<text x="363.2" y="332.1" text-anchor="end" font-size="12" fill="#262626">2</text>
<text x="363.2" y="296.23" text-anchor="end" font-size="12" fill="#262626">4</text>
<rect x="368.4" y="401.8" width="264.3" height="107.4" fill="#fff"/>
<rect x="368.4" y="401.8" width="26.43" height="107.4" fill="#808080"/>
<rect x="610.82" y="401.8" width="21.88" height="107.4" fill="#808080"/>
<path d="M421.26 401.8V509.2M474.12 401.8V509.2M526.98 401.8V509.2M579.84 401.8V509.2M368.4 489.67H632.7M368.4 470.15H632.7M368.4 450.62H632.7M368.4 431.09H632.7M368.4 411.56H632.7" stroke="#000" stroke-opacity="0.14" stroke-width="1" fill="none"/>
<g clip-path="url(#c3)">
<path d="M368.4 494.37 L373.69 493.69 L378.97 493.49 L387.43 493.2 L390.6 492.23 L392.72 488.32" stroke="#000000" stroke-width="2.8" fill="none" stroke-linejoin="round" stroke-linecap="round"/>
<path d="M368.4 493.87 L373.69 493.19 L378.97 492.99 L387.43 492.7 L390.6 491.73 L392.72 487.82" stroke="#0000ff" stroke-width="2.4" fill="none" stroke-linejoin="round" stroke-linecap="round"/>
<path d="M368.4 493.77 L373.69 493.09 L378.97 492.89 L387.43 492.6 L390.6 491.63 L392.72 487.72" stroke="#b80000" stroke-width="2.6" fill="none" stroke-linejoin="round" stroke-linecap="round"/>
<path d="M392.72 487.72 L394.21 509.2 L394.21 415.47" stroke="#000000" stroke-width="1.0" fill="none" stroke-linejoin="round" stroke-linecap="round"/>
<path d="M392.72 487.72 L394.71 509.2 L394.71 421.33" stroke="#b80000" stroke-width="1.0" fill="none" stroke-linejoin="round" stroke-linecap="round"/>
<path d="M392.72 487.72 L394.51 509.2 L394.51 396.92" stroke="#0000ff" stroke-width="0.9" fill="none" stroke-linejoin="round" stroke-linecap="round"/>
<path d="M395.89 442.42 L396.94 451.2 L400.01 456.09 L440.29 457.75 L609.44 462.82 L611.56 460.58 L612.61 465.26 L626.36 484.79 L632.7 489.28" stroke="#000000" stroke-width="2.8" fill="none" stroke-linejoin="round" stroke-linecap="round"/>
<path d="M394.51 396.92 L394.83 396.92" stroke="#0000ff" stroke-width="1.4" fill="none" stroke-linejoin="round" stroke-linecap="round"/>
<path d="M394.3 396.92 L395.36 416.45 L396.42 428.16 L398 430.6 L400.01 431.87 L611.56 497.48 L632.7 489.28" stroke="#0000ff" stroke-width="2.8" fill="none" stroke-linejoin="round" stroke-linecap="round"/>
<path d="M394.51 421.33 L395.99 411.56 L396.94 424.26" stroke="#b80000" stroke-width="1.4" fill="none" stroke-linejoin="round" stroke-linecap="round"/>
<path d="M396.94 424.26 L397.79 426.7 L398.74 428.65 L400.01 430.31 L632.7 489.28" stroke="#b80000" stroke-width="2.8" fill="none" stroke-linejoin="round" stroke-linecap="round"/>
<circle cx="394.51" cy="415.47" r="1.5" fill="#000000"/>
<circle cx="394.51" cy="437.93" r="1.5" fill="#000000"/>
<circle cx="395.89" cy="442.42" r="1.5" fill="#000000"/>
<circle cx="395.36" cy="505.78" r="1.5" fill="#000000"/>
<circle cx="394.51" cy="426.21" r="1.5" fill="#0000ff"/>
<circle cx="393.24" cy="481.47" r="1.5" fill="#0000ff"/>
<circle cx="394.51" cy="494.55" r="1.5" fill="#0000ff"/>
<circle cx="395.99" cy="411.56" r="1.6" fill="#b80000"/>
<circle cx="394.51" cy="433.04" r="1.6" fill="#b80000"/>
<circle cx="394.51" cy="489.67" r="1.6" fill="#b80000"/>
<circle cx="393.77" cy="497.68" r="1.6" fill="#b80000"/>
</g>
<circle cx="368.2" cy="493.77" r="1.7" fill="#b80000"/>
<path d="M368.4 509.2V506.5M368.4 401.8V404.5M421.26 509.2V506.5M421.26 401.8V404.5M474.12 509.2V506.5M474.12 401.8V404.5M526.98 509.2V506.5M526.98 401.8V404.5M579.84 509.2V506.5M579.84 401.8V404.5M632.7 509.2V506.5M632.7 401.8V404.5M368.4 509.2H371.1M632.7 509.2H630M368.4 489.67H371.1M632.7 489.67H630M368.4 470.15H371.1M632.7 470.15H630M368.4 450.62H371.1M632.7 450.62H630M368.4 431.09H371.1M632.7 431.09H630M368.4 411.56H371.1M632.7 411.56H630" stroke="#262626" stroke-width="0.8" fill="none"/>
<rect x="368.4" y="401.8" width="264.3" height="107.4" fill="none" stroke="#262626" stroke-width="1.1"/>
<text x="363.2" y="513.9" text-anchor="end" font-size="12" fill="#262626">-2</text>
<text x="363.2" y="494.37" text-anchor="end" font-size="12" fill="#262626">0</text>
<text x="363.2" y="474.85" text-anchor="end" font-size="12" fill="#262626">2</text>
<text x="363.2" y="455.32" text-anchor="end" font-size="12" fill="#262626">4</text>
<text x="363.2" y="435.79" text-anchor="end" font-size="12" fill="#262626">6</text>
<text x="363.2" y="416.26" text-anchor="end" font-size="12" fill="#262626">8</text>
<defs>
<clipPath id="c0"><rect x="368.4" y="4.4" width="264.3" height="107.3"/></clipPath>
<clipPath id="c1"><rect x="368.4" y="140.8" width="264.3" height="107.3"/></clipPath>
<clipPath id="c2"><rect x="368.4" y="273.6" width="264.3" height="107.6"/></clipPath>
<clipPath id="c3"><rect x="368.4" y="401.8" width="264.3" height="107.4"/></clipPath>
</defs>
<text x="42.2" y="525.3" text-anchor="middle" font-size="12" fill="#262626">0</text>
<text x="95" y="525.3" text-anchor="middle" font-size="12" fill="#262626">5</text>
<text x="147.8" y="525.3" text-anchor="middle" font-size="12" fill="#262626">10</text>
<text x="200.6" y="525.3" text-anchor="middle" font-size="12" fill="#262626">15</text>
<text x="253.4" y="525.3" text-anchor="middle" font-size="12" fill="#262626">20</text>
<text x="306.2" y="525.3" text-anchor="middle" font-size="12" fill="#262626">25</text>
<text x="368.4" y="525.3" text-anchor="middle" font-size="12" fill="#262626">0</text>
<text x="421.26" y="525.3" text-anchor="middle" font-size="12" fill="#262626">5</text>
<text x="474.12" y="525.3" text-anchor="middle" font-size="12" fill="#262626">10</text>
<text x="526.98" y="525.3" text-anchor="middle" font-size="12" fill="#262626">15</text>
<text x="579.84" y="525.3" text-anchor="middle" font-size="12" fill="#262626">20</text>
<text x="632.7" y="525.3" text-anchor="middle" font-size="12" fill="#262626">25</text>
<text x="78.3" y="542.7" font-size="13.2" fill="#262626">Longitudinal coordinate [mm]</text>
<text x="404.6" y="538.7" font-size="13.2" fill="#262626">Longitudinal coordinate [mm]</text>
<text transform="translate(10.3 66.1) rotate(-90)" text-anchor="middle" font-size="13.3" fill="#262626">Deflection [mm]</text>
<text transform="translate(10.2 197.3) rotate(-90)" text-anchor="middle" font-size="13.3" fill="#262626">Deflection [mm]</text>
<text transform="translate(10.1 329.9) rotate(-90)" text-anchor="middle" font-size="13.3" fill="#262626">Deflection [mm]</text>
<text transform="translate(20.2 461.8) rotate(-90)" text-anchor="middle" font-size="13.3" fill="#262626">Deflection [mm]</text>
<text transform="translate(339.3 62.6) rotate(-90)" text-anchor="middle" font-size="13" fill="#262626">Strain [<tspan font-size="9.5">×</tspan>10<tspan font-size="9" dy="-5">3</tspan><tspan dy="5">]</tspan></text>
<text transform="translate(338.5 199.5) rotate(-90)" text-anchor="middle" font-size="13" fill="#262626">Strain [<tspan font-size="9.5">×</tspan>10<tspan font-size="9" dy="-5">3</tspan><tspan dy="5">]</tspan></text>
<text transform="translate(349.3 332.4) rotate(-90)" text-anchor="middle" font-size="13" fill="#262626">Strain [<tspan font-size="9.5">×</tspan>10<tspan font-size="9" dy="-5">3</tspan><tspan dy="5">]</tspan></text>
<text transform="translate(347.6 460.7) rotate(-90)" text-anchor="middle" font-size="13" fill="#262626">Strain [<tspan font-size="9.5">×</tspan>10<tspan font-size="9" dy="-5">3</tspan><tspan dy="5">]</tspan></text>
<text x="299.6" y="105.5" text-anchor="end" font-size="10.9" letter-spacing="0.55" style="fill:#000;stroke:#000;stroke-width:0.4px">φ=12.5 mrad</text>
<text x="299.6" y="231.3" text-anchor="end" font-size="10.9" letter-spacing="0.55" style="fill:#000;stroke:#000;stroke-width:0.4px">φ=25 mrad</text>
<text x="299.6" y="369.9" text-anchor="end" font-size="10.9" letter-spacing="0.55" style="fill:#000;stroke:#000;stroke-width:0.4px">φ=50 mrad</text>
<text x="299.6" y="501.4" text-anchor="end" font-size="10.9" letter-spacing="0.55" style="fill:#000;stroke:#000;stroke-width:0.4px">φ=100 mrad</text>
<text x="484.4" y="21" font-size="10.9" letter-spacing="0.55" style="fill:#000;stroke:#000;stroke-width:0.4px">φ=12.5 mrad</text>
<text x="484.4" y="158" font-size="10.9" letter-spacing="0.55" style="fill:#000;stroke:#000;stroke-width:0.4px">φ=25 mrad</text>
<text x="484.4" y="289.6" font-size="10.9" letter-spacing="0.55" style="fill:#000;stroke:#000;stroke-width:0.4px">φ=50 mrad</text>
<text x="484.4" y="419" font-size="10.9" letter-spacing="0.55" style="fill:#000;stroke:#000;stroke-width:0.4px">φ=100 mrad</text>
<rect x="53.8" y="17.8" width="142.9" height="41.4" fill="#fff" stroke="#262626" stroke-width="1"/>
<path d="M61.1 26.5H97.7" stroke="#333" stroke-width="1" stroke-dasharray="9 5.5"/>
<circle cx="79.5" cy="26.5" r="1.3" fill="#000"/>
<path d="M61.1 38.5H97.7" stroke="#2222c8" stroke-width="1"/>
<circle cx="79.5" cy="38.5" r="1.6" fill="#0000ff"/>
<path d="M61.1 51H97.7" stroke="#c03030" stroke-width="1" stroke-dasharray="1 2.8"/>
<circle cx="79.5" cy="51" r="1.6" fill="#b80000"/>
<text x="102.2" y="29.7" font-size="8.9" fill="#000">With Connectors</text>
<text x="102.2" y="41.7" font-size="8.9" fill="#000">Without Connectors</text>
<text x="102.2" y="54.2" font-size="8.9" fill="#000">Cantilever</text>
<rect x="399.4" y="65.8" width="142" height="41.3" fill="#fff" stroke="#262626" stroke-width="1"/>
<path d="M406.3 74.5H443.2" stroke="#333" stroke-width="1" stroke-dasharray="9 5.5"/>
<circle cx="424.9" cy="74.5" r="1.3" fill="#000"/>
<path d="M406.3 86.5H443.2" stroke="#2222c8" stroke-width="1"/>
<circle cx="424.9" cy="86.5" r="1.6" fill="#0000ff"/>
<path d="M406.3 98.8H443.2" stroke="#c03030" stroke-width="1" stroke-dasharray="1 2.8"/>
<circle cx="424.9" cy="98.8" r="1.6" fill="#b80000"/>
<text x="447.9" y="77.7" font-size="8.9" fill="#000">With Connectors</text>
<text x="447.9" y="89.7" font-size="8.9" fill="#000">Without Connectors</text>
<text x="447.9" y="102" font-size="8.9" fill="#000">Cantilever</text>
</svg>
</body></html>
